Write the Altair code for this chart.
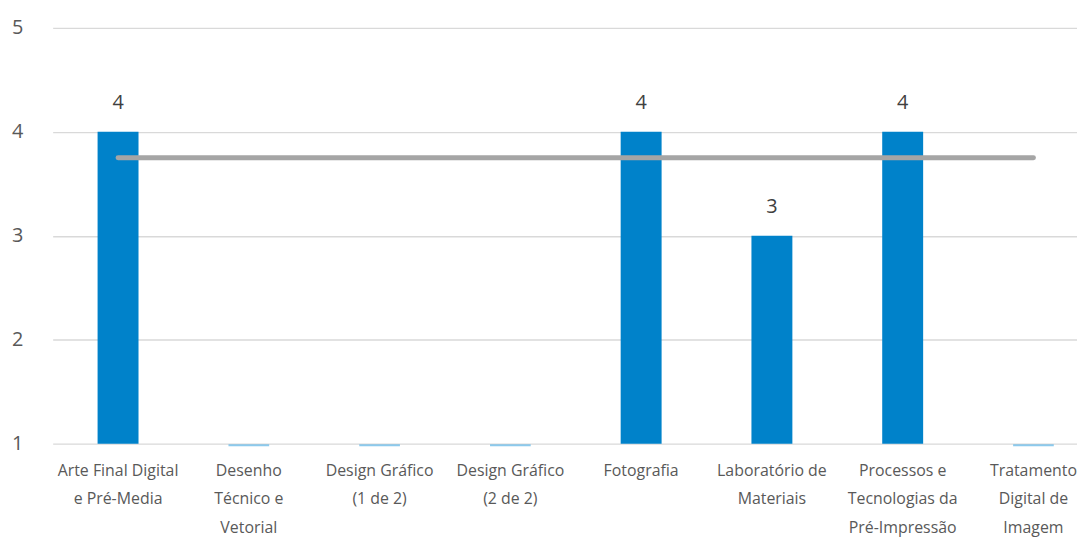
import altair as alt
import pandas as pd

categories = [
    "Arte Final Digital|e Pré-Media",
    "Desenho|Técnico e|Vetorial",
    "Design Gráfico|(1 de 2)",
    "Design Gráfico|(2 de 2)",
    "Fotografia",
    "Laboratório de|Materiais",
    "Processos e|Tecnologias da|Pré-Impressão",
    "Tratamento|Digital de|Imagem",
]
values = [4, None, None, None, 4, 3, 4, None]
average = 3.75
y_ticks = [1, 2, 3, 4, 5]

df = pd.DataFrame({"cat": categories, "value": values})
avg_df = pd.DataFrame({"start": [categories[0]], "end": [categories[-1]], "avg": [average]})

FONT = "Open Sans"
x_scale = alt.Scale(paddingInner=0.687, paddingOuter=0.3435, range=[0, 1054], round=False)
x_enc = alt.X(
    "cat:N",
    sort=categories,
    scale=x_scale,
    axis=alt.Axis(
        title=None,
        labelAngle=0,
        labelExpr="split(datum.label, '|')",
        labelFont=FONT,
        labelFontSize=16,
        labelColor="#595959",
        labelLineHeight=28.5,
        labelPadding=19,
        labelBaseline="top",
        ticks=False,
        domain=False,
        grid=False,
        labelLimit=200,
    ),
)
y_scale = alt.Scale(domain=[1, 5], zero=False, nice=False)
y_axis = alt.Axis(
    title=None,
    values=y_ticks,
    format="d",
    labelFont=FONT,
    labelFontSize=20,
    labelColor="#595959",
    labelPadding=30,
    ticks=False,
    domain=False,
    gridColor="#D9D9D9",
    gridWidth=1.3,
)

base = alt.Chart(df)
bars = base.transform_filter("datum.value != null").mark_bar(color="#0082CA").encode(
    x=x_enc,
    y=alt.Y("value:Q", scale=y_scale, axis=y_axis),
    y2=alt.Y2(datum=1),
)
empty = base.transform_filter("datum.value == null").mark_tick(
    color="#5BB4E6", thickness=2, size=41, yOffset=1.5
).encode(x=alt.X("cat:N", sort=categories), y=alt.Y(datum=1))
labels = base.transform_filter("datum.value != null").mark_text(
    font=FONT, fontSize=20, color="#404040", dy=-29, baseline="middle"
).encode(x=alt.X("cat:N", sort=categories), y=alt.Y("value:Q"), text=alt.Text("value:Q"))
avg_line = alt.Chart(avg_df).mark_rule(
    color="#A5A5A5", strokeWidth=5, strokeCap="round"
).encode(x="start:N", x2="end:N", y="avg:Q")

chart = (
    alt.layer(bars, empty, avg_line, labels)
    .properties(
        width=1032,
        height=419,
        padding={"left": 45, "top": 18, "right": 0, "bottom": 92},
        autosize=alt.AutoSizeParams(type="none"),
    )
    .configure_view(stroke=None)
)
chart.save("out.html", embed_options={"renderer": "svg", "actions": False})
